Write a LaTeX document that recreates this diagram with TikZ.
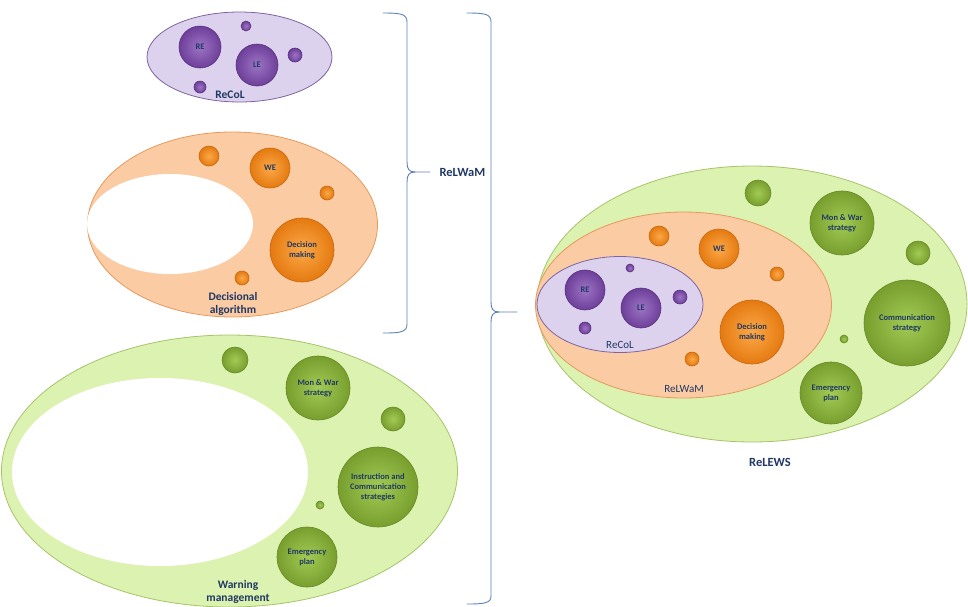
\documentclass[tikz,border=0pt]{standalone}
\usepackage{fontspec}
\setmainfont{Carlito}
\usetikzlibrary{shapes.geometric}
\definecolor{txt}{HTML}{1F3864}
\definecolor{purEdge}{HTML}{7E64A0}
\definecolor{purFill}{HTML}{DDD2EE}
\definecolor{purBall}{HTML}{6E3F9A}
\definecolor{purBallIn}{HTML}{9C74C4}
\definecolor{orEdge}{HTML}{E49A5C}
\definecolor{orFill}{HTML}{FBCBA4}
\definecolor{orBall}{HTML}{E57A10}
\definecolor{orBallIn}{HTML}{FBA848}
\definecolor{grEdge}{HTML}{A6C46A}
\definecolor{grFill}{HTML}{DCF2B0}
\definecolor{grBall}{HTML}{789F2E}
\definecolor{grBallIn}{HTML}{A2CA55}
\definecolor{braceCol}{HTML}{5E80B8}
\tikzset{
  bigell/.style={ellipse, inner sep=0pt, line width=0.8pt},
  purE/.style={bigell, draw=purEdge, fill=purFill},
  orE/.style={bigell, draw=orEdge, fill=orFill},
  grE/.style={bigell, draw=grEdge, fill=grFill},
  holeE/.style={ellipse, inner sep=0pt, fill=white},
  ball/.style={circle, inner sep=0pt, minimum size=#1, align=center,
    font=\bfseries\fontsize{8.5}{10}\selectfont, text=txt, line width=0.6pt},
  pb/.style={ball=#1, draw=purBall!80!black, inner color=purBallIn, outer color=purBall},
  ob/.style={ball=#1, draw=orBall!85!black, inner color=orBallIn, outer color=orBall},
  gb/.style={ball=#1, draw=grBall!85!black, inner color=grBallIn, outer color=grBall},
  lbl/.style={font=\bfseries\fontsize{11.5}{13}\selectfont, text=txt, align=center},
  lblbig/.style={font=\bfseries\fontsize{12.5}{14}\selectfont, text=txt, align=center},
  lblr/.style={font=\fontsize{11}{12}\selectfont, text=txt, align=center},
  bracestyle/.style={draw=braceCol, line width=0.9pt, line cap=round}
}
\begin{document}
\begin{tikzpicture}[x=1pt, y=-1pt]
\useasboundingbox (0,0) rectangle (968,606);

% ---------- top-left: ReCoL ----------
\node[purE, minimum width=185pt, minimum height=90pt] (recolA) at (239.5,57) {};
\node[pb=42pt] (reA) at (200,47) {RE};
\node[pb=42pt] (leA) at (257,65) {LE};
\node[pb=10pt] (pa1) at (246,26) {};
\node[pb=14pt] (pa2) at (295,55) {};
\node[pb=12pt] (pa3) at (200,87) {};
\node[lbl] (recolAl) at (230,94.5) {ReCoL};

% ---------- middle-left: Decisional algorithm ----------
\node[orE, minimum width=290pt, minimum height=185pt] (decA) at (232.5,224.5) {};
\node[holeE, minimum width=166pt, minimum height=100pt] (holeA) at (170,224) {};
\node[ob=20pt] (oa1) at (209,156) {};
\node[ob=40pt] (weA) at (270,168) {WE};
\node[ob=14pt] (oa2) at (327,193) {};
\node[ob=64pt] (dmA) at (302,250) {Decision\\making};
\node[ob=14pt] (oa3) at (242,278) {};
\node[lbl] (decAl) at (233,304) {Decisional\\algorithm};

% ---------- bottom-left: Warning management ----------
\node[grE, minimum width=456pt, minimum height=272pt] (warnA) at (229.5,471) {};
\node[holeE, minimum width=296pt, minimum height=188pt] (holeB) at (160,472) {};
\node[gb=26pt] (ga1) at (235,360) {};
\node[gb=64pt] (mwA) at (318,388) {Mon \& War\\strategy};
\node[gb=24pt] (ga2) at (393,419) {};
\node[gb=80pt] (icA) at (378,487) {Instruction and\\Communication\\strategies};
\node[gb=8pt] (ga3) at (320,505) {};
\node[gb=60pt] (epA) at (307,557) {Emergency\\plan};
\node[lbl] (warnAl) at (238,592) {Warning\\management};

% ---------- braces ----------
\coordinate (b1top) at (383,13);
\coordinate (b1tip) at (430,172);
\coordinate (b1bot) at (383,333);
\draw[bracestyle] (b1top) .. controls (401,13) and (407,14) .. (407,22)
  -- (407,162) .. controls (407,169) and (409,172) .. (415,172) -- (b1tip);
\draw[bracestyle] (b1bot) .. controls (401,333) and (407,332) .. (407,324)
  -- (407,182) .. controls (407,175) and (409,172) .. (415,172);
\node[lblbig, anchor=west] (relwamL) at (436,172) {ReLWaM};

\coordinate (b2top) at (467,13);
\coordinate (b2tip) at (517,312);
\coordinate (b2bot) at (467,604);
\draw[bracestyle] (b2top) .. controls (485,13) and (491,14) .. (491,22)
  -- (491,302) .. controls (491,309) and (493,312) .. (499,312) -- (b2tip);
\draw[bracestyle] (b2bot) .. controls (485,604) and (491,603) .. (491,596)
  -- (491,322) .. controls (491,315) and (493,312) .. (499,312);

% ---------- right: ReLEWS ----------
\node[grE, minimum width=430pt, minimum height=276pt] (relews) at (752,304) {};
\node[orE, minimum width=296pt, minimum height=186pt] (relwam) at (683.5,305) {};
\node[purE, minimum width=166pt, minimum height=96pt] (recolB) at (620,304.5) {};

\node[pb=40pt] (reB) at (585,290) {RE};
\node[pb=40pt] (leB) at (641,308) {LE};
\node[pb=8pt] (pb1) at (630,268) {};
\node[pb=14pt] (pb2) at (680,297) {};
\node[pb=12pt] (pb3) at (585,328) {};
\node[lblr] (recolBl) at (620,345) {ReCoL};

\node[ob=20pt] (ob1) at (659,236) {};
\node[ob=40pt] (weB) at (719,249) {WE};
\node[ob=14pt] (ob2) at (777,274) {};
\node[ob=64pt] (dmB) at (752,332) {Decision\\making};
\node[ob=14pt] (ob3) at (692,359) {};
\node[lblr] (relwamBl) at (684,389) {ReLWaM};

\node[gb=26pt] (gb1) at (758,193) {};
\node[gb=64pt] (mwB) at (842,223) {Mon \& War\\strategy};
\node[gb=24pt] (gb2) at (918,253) {};
\node[gb=86pt] (csB) at (907,323) {Communication\\strategy};
\node[gb=8pt] (gb3) at (844,339) {};
\node[gb=62pt] (epB) at (831,393) {Emergency\\plan};
\node[lblbig] (relewsL) at (770,462) {ReLEWS};
\end{tikzpicture}
\end{document}
